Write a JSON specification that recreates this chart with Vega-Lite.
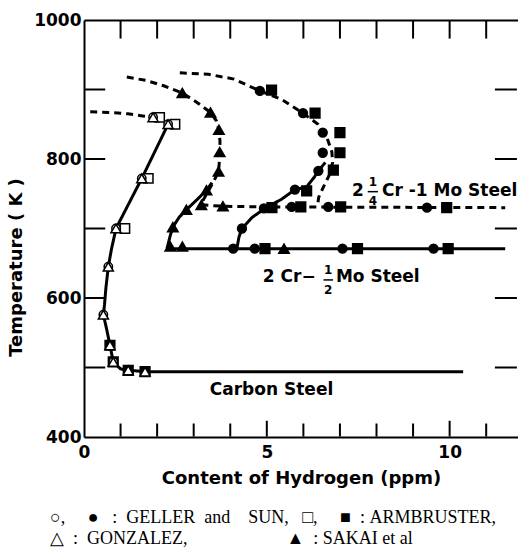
{
  "$schema": "https://vega.github.io/schema/vega-lite/v6.json",
  "width": 434,
  "height": 417,
  "autosize": {"type": "none"},
  "padding": {"left": 84, "top": 20, "right": 0, "bottom": 110},
  "background": "white",
  "config": {
    "view": {"stroke": null},
    "font": "DejaVu Sans",
    "axis": {"grid": false, "ticks": false, "tickSize": 0, "domainColor": "black", "domainWidth": 2, "labelColor": "black", "titleColor": "black"}
  },
  "title": {
    "text": ["○,\u00a0\u00a0\u00a0\u00a0\u00a0●\u00a0\u00a0\u00a0:\u00a0\u00a0GELLER\u00a0\u00a0and\u00a0\u00a0\u00a0\u00a0SUN,\u00a0\u00a0\u00a0□,\u00a0\u00a0\u00a0\u00a0\u00a0■\u00a0\u00a0:\u00a0ARMBRUSTER,", "△\u00a0\u00a0:\u00a0\u00a0GONZALEZ,\u00a0\u00a0\u00a0\u00a0\u00a0\u00a0\u00a0\u00a0\u00a0\u00a0\u00a0\u00a0\u00a0\u00a0\u00a0\u00a0\u00a0\u00a0\u00a0\u00a0\u00a0\u00a0▲\u00a0\u00a0:\u00a0SAKAI et al"],
    "orient": "bottom",
    "anchor": "start",
    "frame": "group",
    "dx": -34,
    "offset": 22,
    "font": "Liberation Serif",
    "fontSize": 18,
    "fontWeight": "normal",
    "lineHeight": 21,
    "color": "black"
  },
  "datasets": {
    "axisTicks": [
      {"side": "bottom", "h": 1, "T": 400.7}, {"side": "bottom", "h": 2, "T": 400.7}, {"side": "bottom", "h": 3, "T": 400.7},
      {"side": "bottom", "h": 4, "T": 400.7}, {"side": "bottom major", "h": 5, "T": 400.7}, {"side": "bottom", "h": 6, "T": 400.7},
      {"side": "bottom", "h": 7, "T": 400.7}, {"side": "bottom", "h": 8, "T": 400.7}, {"side": "bottom", "h": 9, "T": 400.7},
      {"side": "bottom major", "h": 10, "T": 400.7}, {"side": "bottom", "h": 11, "T": 400.7},
      {"side": "top", "h": 1, "T": 999.3}, {"side": "top", "h": 2, "T": 999.3}, {"side": "top", "h": 3, "T": 999.3},
      {"side": "top", "h": 4, "T": 999.3}, {"side": "top", "h": 5, "T": 999.3}, {"side": "top", "h": 6, "T": 999.3},
      {"side": "top", "h": 7, "T": 999.3}, {"side": "top", "h": 8, "T": 999.3}, {"side": "top", "h": 9, "T": 999.3},
      {"side": "top", "h": 10, "T": 999.3}, {"side": "top", "h": 11, "T": 999.3},
      {"side": "left", "h": 0.03, "T": 500}, {"side": "left", "h": 0.03, "T": 600}, {"side": "left", "h": 0.03, "T": 700},
      {"side": "left", "h": 0.03, "T": 800}, {"side": "left", "h": 0.03, "T": 900},
      {"side": "right", "h": 11.84, "T": 500}, {"side": "right", "h": 11.84, "T": 600}, {"side": "right", "h": 11.84, "T": 700},
      {"side": "right", "h": 11.84, "T": 800}, {"side": "right", "h": 11.84, "T": 900}
    ],
    "curves": [
      {"curve": "carbon", "kind": "measured", "i": 1, "h": 2.30, "T": 850},
      {"curve": "carbon", "kind": "measured", "i": 2, "h": 1.58, "T": 772},
      {"curve": "carbon", "kind": "measured", "i": 3, "h": 0.875, "T": 700},
      {"curve": "carbon", "kind": "measured", "i": 4, "h": 0.75, "T": 670},
      {"curve": "carbon", "kind": "measured", "i": 5, "h": 0.665, "T": 645},
      {"curve": "carbon", "kind": "measured", "i": 6, "h": 0.60, "T": 615},
      {"curve": "carbon", "kind": "measured", "i": 7, "h": 0.56, "T": 590},
      {"curve": "carbon", "kind": "measured", "i": 8, "h": 0.53, "T": 576},
      {"curve": "carbon", "kind": "measured", "i": 9, "h": 0.62, "T": 555},
      {"curve": "carbon", "kind": "measured", "i": 10, "h": 0.71, "T": 532},
      {"curve": "carbon", "kind": "measured", "i": 11, "h": 0.80, "T": 508},
      {"curve": "carbon", "kind": "measured", "i": 12, "h": 1.0, "T": 498},
      {"curve": "carbon", "kind": "measured", "i": 13, "h": 1.21, "T": 496},
      {"curve": "carbon", "kind": "measured", "i": 14, "h": 1.67, "T": 494},
      {"curve": "carbon", "kind": "measured", "i": 15, "h": 10.37, "T": 494},
      {"curve": "carbon top", "kind": "estimated", "i": 1, "h": 0.17, "T": 868},
      {"curve": "carbon top", "kind": "estimated", "i": 2, "h": 0.7, "T": 867},
      {"curve": "carbon top", "kind": "estimated", "i": 3, "h": 1.2, "T": 865},
      {"curve": "carbon top", "kind": "estimated", "i": 4, "h": 1.6, "T": 862},
      {"curve": "carbon top", "kind": "estimated", "i": 5, "h": 1.89, "T": 860},
      {"curve": "sakai", "kind": "measured", "i": 1, "h": 2.27, "T": 671},
      {"curve": "sakai", "kind": "measured", "i": 2, "h": 2.36, "T": 690},
      {"curve": "sakai", "kind": "measured", "i": 3, "h": 2.43, "T": 702},
      {"curve": "sakai", "kind": "measured", "i": 4, "h": 2.6, "T": 716},
      {"curve": "sakai", "kind": "measured", "i": 5, "h": 2.80, "T": 727},
      {"curve": "sakai", "kind": "measured", "i": 6, "h": 3.1, "T": 742},
      {"curve": "sakai", "kind": "measured", "i": 7, "h": 3.35, "T": 755},
      {"curve": "sakai", "kind": "measured", "i": 8, "h": 3.5, "T": 766},
      {"curve": "sakai top", "kind": "estimated", "i": 1, "h": 1.17, "T": 918},
      {"curve": "sakai top", "kind": "estimated", "i": 2, "h": 1.7, "T": 913},
      {"curve": "sakai top", "kind": "estimated", "i": 3, "h": 2.2, "T": 905},
      {"curve": "sakai top", "kind": "estimated", "i": 4, "h": 2.69, "T": 895},
      {"curve": "sakai top", "kind": "estimated", "i": 5, "h": 3.1, "T": 881},
      {"curve": "sakai top", "kind": "estimated", "i": 6, "h": 3.46, "T": 867},
      {"curve": "sakai top", "kind": "estimated", "i": 7, "h": 3.62, "T": 855},
      {"curve": "sakai top", "kind": "estimated", "i": 8, "h": 3.69, "T": 842},
      {"curve": "sakai top", "kind": "estimated", "i": 9, "h": 3.72, "T": 825},
      {"curve": "sakai top", "kind": "estimated", "i": 10, "h": 3.71, "T": 810},
      {"curve": "sakai top", "kind": "estimated", "i": 11, "h": 3.70, "T": 795},
      {"curve": "sakai top", "kind": "estimated", "i": 12, "h": 3.68, "T": 782},
      {"curve": "sakai top", "kind": "estimated", "i": 13, "h": 3.55, "T": 768},
      {"curve": "sakai top", "kind": "estimated", "i": 14, "h": 3.38, "T": 752},
      {"curve": "sakai top", "kind": "estimated", "i": 15, "h": 3.25, "T": 740},
      {"curve": "sakai top", "kind": "estimated", "i": 16, "h": 3.21, "T": 734},
      {"curve": "2.25Cr", "kind": "measured", "i": 1, "h": 4.18, "T": 671},
      {"curve": "2.25Cr", "kind": "measured", "i": 2, "h": 4.24, "T": 688},
      {"curve": "2.25Cr", "kind": "measured", "i": 3, "h": 4.32, "T": 700},
      {"curve": "2.25Cr", "kind": "measured", "i": 4, "h": 4.6, "T": 716},
      {"curve": "2.25Cr", "kind": "measured", "i": 5, "h": 4.95, "T": 729},
      {"curve": "2.25Cr", "kind": "measured", "i": 6, "h": 5.4, "T": 742},
      {"curve": "2.25Cr", "kind": "measured", "i": 7, "h": 5.77, "T": 756},
      {"curve": "2.25Cr", "kind": "measured", "i": 8, "h": 6.09, "T": 760},
      {"curve": "2.25Cr", "kind": "measured", "i": 9, "h": 6.3, "T": 774},
      {"curve": "2.25Cr", "kind": "measured", "i": 10, "h": 6.41, "T": 783},
      {"curve": "2.25Cr", "kind": "measured", "i": 11, "h": 6.6, "T": 795},
      {"curve": "2.25Cr top", "kind": "estimated", "i": 1, "h": 2.62, "T": 924},
      {"curve": "2.25Cr top", "kind": "estimated", "i": 2, "h": 3.4, "T": 922},
      {"curve": "2.25Cr top", "kind": "estimated", "i": 3, "h": 4.1, "T": 915},
      {"curve": "2.25Cr top", "kind": "estimated", "i": 4, "h": 4.81, "T": 898},
      {"curve": "2.25Cr top", "kind": "estimated", "i": 5, "h": 5.4, "T": 886},
      {"curve": "2.25Cr top", "kind": "estimated", "i": 6, "h": 5.99, "T": 866},
      {"curve": "2.25Cr top", "kind": "estimated", "i": 7, "h": 6.4, "T": 850},
      {"curve": "2.25Cr top", "kind": "estimated", "i": 8, "h": 6.65, "T": 830},
      {"curve": "2.25Cr top", "kind": "estimated", "i": 9, "h": 6.78, "T": 810},
      {"curve": "2.25Cr top", "kind": "estimated", "i": 10, "h": 6.8, "T": 795},
      {"curve": "2.25Cr top", "kind": "estimated", "i": 11, "h": 6.72, "T": 778},
      {"curve": "2.25Cr top", "kind": "estimated", "i": 12, "h": 6.55, "T": 760},
      {"curve": "2.25Cr top", "kind": "estimated", "i": 13, "h": 6.42, "T": 745},
      {"curve": "2.25Cr top", "kind": "estimated", "i": 14, "h": 6.38, "T": 731},
      {"curve": "2.25Cr 730", "kind": "estimated", "i": 1, "h": 3.21, "T": 734},
      {"curve": "2.25Cr 730", "kind": "estimated", "i": 2, "h": 3.8, "T": 732},
      {"curve": "2.25Cr 730", "kind": "estimated", "i": 3, "h": 5.0, "T": 731},
      {"curve": "2.25Cr 730", "kind": "estimated", "i": 4, "h": 11.52, "T": 730},
      {"curve": "2Cr", "kind": "measured", "i": 1, "h": 2.27, "T": 671},
      {"curve": "2Cr", "kind": "measured", "i": 2, "h": 11.52, "T": 671}
    ],
    "points": [
      {"sym": "□", "h": 2.07, "T": 860},
      {"sym": "□", "h": 2.49, "T": 850},
      {"sym": "□", "h": 1.76, "T": 772},
      {"sym": "□", "h": 1.12, "T": 700},
      {"sym": "■", "h": 0.71, "T": 532},
      {"sym": "■", "h": 0.80, "T": 508},
      {"sym": "■", "h": 1.21, "T": 496},
      {"sym": "■", "h": 1.67, "T": 494},
      {"sym": "○", "h": 1.89, "T": 860},
      {"sym": "○", "h": 2.30, "T": 850},
      {"sym": "○", "h": 1.58, "T": 772},
      {"sym": "○", "h": 0.875, "T": 700},
      {"sym": "○", "h": 0.665, "T": 645},
      {"sym": "○", "h": 0.53, "T": 576},
      {"sym": "○", "h": 0.80, "T": 508},
      {"sym": "△", "h": 1.89, "T": 860},
      {"sym": "△", "h": 2.30, "T": 850},
      {"sym": "△", "h": 1.58, "T": 772},
      {"sym": "△", "h": 0.875, "T": 700},
      {"sym": "△", "h": 0.665, "T": 645},
      {"sym": "△", "h": 0.53, "T": 576},
      {"sym": "△", "h": 0.71, "T": 532},
      {"sym": "△", "h": 0.80, "T": 508},
      {"sym": "△", "h": 1.21, "T": 496},
      {"sym": "△", "h": 1.67, "T": 494},
      {"sym": "■", "h": 5.13, "T": 899},
      {"sym": "■", "h": 6.32, "T": 866},
      {"sym": "■", "h": 7.0, "T": 838},
      {"sym": "■", "h": 7.0, "T": 809},
      {"sym": "■", "h": 6.82, "T": 784},
      {"sym": "■", "h": 6.09, "T": 754},
      {"sym": "■", "h": 5.14, "T": 730},
      {"sym": "■", "h": 5.93, "T": 731},
      {"sym": "■", "h": 7.02, "T": 731},
      {"sym": "■", "h": 9.92, "T": 730},
      {"sym": "■", "h": 4.95, "T": 671},
      {"sym": "■", "h": 7.48, "T": 671},
      {"sym": "■", "h": 9.96, "T": 671},
      {"sym": "●", "h": 4.81, "T": 898},
      {"sym": "●", "h": 5.99, "T": 866},
      {"sym": "●", "h": 6.53, "T": 838},
      {"sym": "●", "h": 6.53, "T": 809},
      {"sym": "●", "h": 6.41, "T": 783},
      {"sym": "●", "h": 5.77, "T": 756},
      {"sym": "●", "h": 4.92, "T": 729},
      {"sym": "●", "h": 5.68, "T": 731},
      {"sym": "●", "h": 6.68, "T": 731},
      {"sym": "●", "h": 9.38, "T": 730},
      {"sym": "●", "h": 4.32, "T": 700},
      {"sym": "●", "h": 4.08, "T": 671},
      {"sym": "●", "h": 4.67, "T": 671},
      {"sym": "●", "h": 7.07, "T": 671},
      {"sym": "●", "h": 9.56, "T": 671},
      {"sym": "▲", "h": 2.69, "T": 895},
      {"sym": "▲", "h": 3.46, "T": 867},
      {"sym": "▲", "h": 3.69, "T": 842},
      {"sym": "▲", "h": 3.71, "T": 810},
      {"sym": "▲", "h": 3.68, "T": 782},
      {"sym": "▲", "h": 3.35, "T": 755},
      {"sym": "▲", "h": 2.80, "T": 727},
      {"sym": "▲", "h": 2.43, "T": 702},
      {"sym": "▲", "h": 2.36, "T": 674},
      {"sym": "▲", "h": 2.69, "T": 674},
      {"sym": "▲", "h": 3.21, "T": 734},
      {"sym": "▲", "h": 3.80, "T": 732},
      {"sym": "▲", "h": 5.47, "T": 671}
    ],
    "labels": [
      {"h": 3.44, "T": 467, "text": "Carbon  Steel"},
      {"h": 4.89, "T": 630, "text": "2 Cr−"},
      {"h": 6.89, "T": 630, "text": "Mo  Steel"},
      {"h": 7.33, "T": 754, "text": "2"},
      {"h": 8.15, "T": 754, "text": "Cr -1 Mo Steel"}
    ],
    "fractions": [
      {"h": 7.90, "T": 767, "text": "1"},
      {"h": 7.90, "T": 740, "text": "4"},
      {"h": 6.68, "T": 641, "text": "1"},
      {"h": 6.68, "T": 611, "text": "2"}
    ],
    "bars": [
      {"h": 7.76, "h2": 8.04, "T": 753},
      {"h": 6.55, "h2": 6.81, "T": 626}
    ]
  },
  "layer": [
    {
      "data": {"name": "curves"},
      "mark": {"type": "line", "strokeWidth": 3, "color": "black", "clip": true},
      "encoding": {
        "x": {
          "field": "h", "type": "quantitative",
          "scale": {"domain": [0, 11.87], "nice": false, "zero": false},
          "axis": {
            "orient": "bottom",
            "values": [0, 5, 10],
            "format": "d",
            "labelPadding": 7,
            "labelFont": "DejaVu Sans", "labelFontSize": 17, "labelFontWeight": "bold",
            "labelFlush": false,
            "title": "Content  of  Hydrogen  (ppm)",
            "titleFont": "DejaVu Sans", "titleFontSize": 18, "titleFontWeight": "bold",
            "titlePadding": 9
          }
        },
        "y": {
          "field": "T", "type": "quantitative",
          "scale": {"domain": [400, 1000], "nice": false, "zero": false},
          "axis": {
            "orient": "left",
            "values": [400, 600, 800, 1000],
            "format": "d",
            "labelPadding": 3,
            "labelFont": "DejaVu Sans", "labelFontSize": 17, "labelFontWeight": "bold",
            "labelFlush": false,
            "title": "Temperature   ( K )",
            "titleFont": "DejaVu Sans", "titleFontSize": 18, "titleFontWeight": "bold",
            "titlePadding": 8,
            "titleY": 247
          }
        },
        "detail": {"field": "curve"},
        "order": {"field": "i", "type": "quantitative"},
        "strokeDash": {"field": "kind", "type": "nominal", "scale": {"domain": ["measured", "estimated"], "range": [[1, 0], [7, 5]]}, "legend": null}
      }
    },
    {
      "data": {"name": "axisTicks"},
      "mark": {"type": "point", "filled": false, "stroke": "black", "strokeWidth": 2, "opacity": 1},
      "encoding": {
        "x": {"field": "h", "type": "quantitative", "axis": {"orient": "top", "labels": false, "values": [1], "title": null}},
        "y": {"field": "T", "type": "quantitative", "axis": null},
        "shape": {"field": "side", "type": "nominal", "scale": {"domain": ["bottom", "bottom major", "top", "left", "right"], "range": ["M0,0L0,-1", "M0,0L0,-1", "M0,0L0,1", "M0,0L1,0", "M0,0L-1,0"]}, "legend": null},
        "size": {"field": "side", "type": "nominal", "scale": {"domain": ["bottom", "bottom major", "top", "left", "right"], "range": [676, 1936, 324, 784, 144]}, "legend": null}
      }
    },
    {
      "data": {"name": "points"},
      "mark": {"type": "point", "filled": false, "stroke": "black", "strokeWidth": 1.5, "opacity": 1},
      "encoding": {
        "x": {"field": "h", "type": "quantitative", "axis": null},
        "y": {"field": "T", "type": "quantitative", "axis": null},
        "shape": {"field": "sym", "type": "nominal", "scale": {"domain": ["○", "●", "□", "■", "△", "▲"], "range": ["circle", "circle", "square", "square", "triangle-up", "triangle-up"]}, "legend": null},
        "fill": {"field": "sym", "type": "nominal", "scale": {"domain": ["○", "●", "□", "■", "△", "▲"], "range": ["white", "black", "white", "black", "white", "black"]}, "legend": null},
        "size": {"field": "sym", "type": "nominal", "scale": {"domain": ["○", "●", "□", "■", "△", "▲"], "range": [70, 110, 60, 100, 22, 130]}, "legend": null}
      }
    },
    {
      "data": {"name": "labels"},
      "mark": {"type": "text", "align": "left", "baseline": "middle", "font": "DejaVu Sans", "fontSize": 17, "fontWeight": "bold", "color": "black"},
      "encoding": {
        "x": {"field": "h", "type": "quantitative", "axis": null},
        "y": {"field": "T", "type": "quantitative", "axis": null},
        "text": {"field": "text"}
      }
    },
    {
      "data": {"name": "fractions"},
      "mark": {"type": "text", "align": "center", "baseline": "middle", "font": "DejaVu Sans", "fontSize": 12, "fontWeight": "bold", "color": "black"},
      "encoding": {
        "x": {"field": "h", "type": "quantitative", "axis": null},
        "y": {"field": "T", "type": "quantitative", "axis": null},
        "text": {"field": "text"}
      }
    },
    {
      "data": {"name": "bars"},
      "mark": {"type": "rule", "color": "black", "strokeWidth": 1.5},
      "encoding": {
        "x": {"field": "h", "type": "quantitative", "axis": null},
        "x2": {"field": "h2"},
        "y": {"field": "T", "type": "quantitative", "axis": null}
      }
    }
  ],
  "resolve": {
    "axis": {"x": "independent", "y": "independent"},
    "scale": {"shape": "independent", "size": "independent"}
  }
}
